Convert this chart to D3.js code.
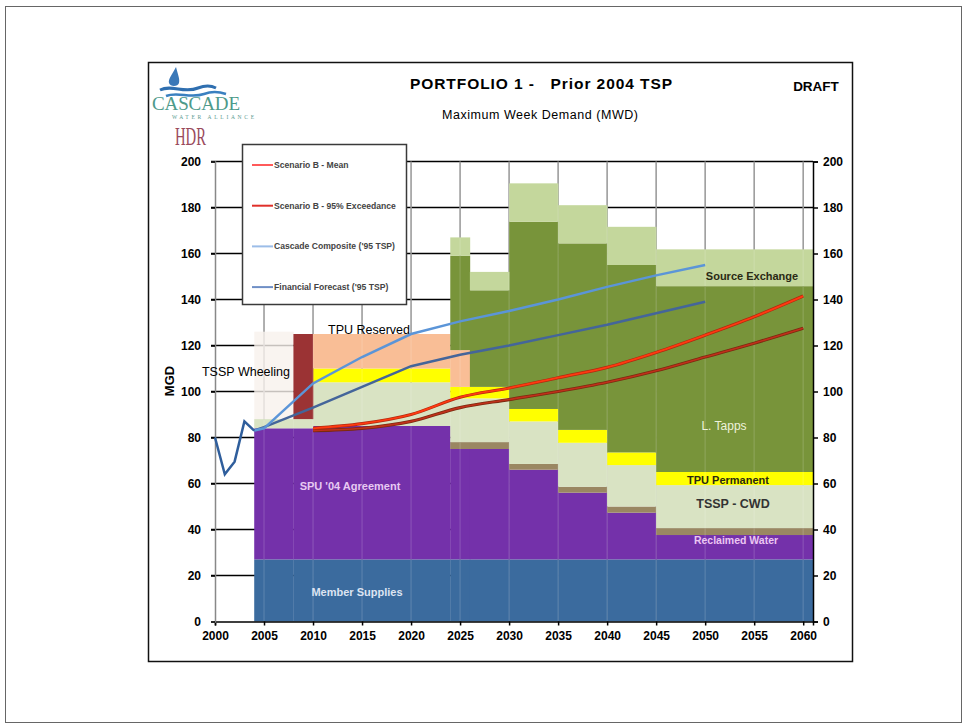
<!DOCTYPE html>
<html>
<head>
<meta charset="utf-8">
<script src="https://cdn.jsdelivr.net/npm/d3@7"></script>
<style>
body { margin: 0; background: #fff; }
svg { font-family: Arial, "Liberation Sans", sans-serif; }
</style>
</head>
<body>
<svg width="964" height="726"></svg>
<script>
'use strict';

// supply steps (start/end years) and the MGD each source adds in that step
var segStart = [2004, 2008, 2010, 2024, 2026, 2030, 2035, 2040, 2045];
var segEnd   = [2008, 2010, 2024, 2026, 2030, 2035, 2040, 2045, 2061];

var memberSupplies = [27, 27, 27, 27, 27, 27, 27, 27, 27];
var spuAgreement   = [57, 57, 58, 48, 48, 39, 29, 20.3, 10.6];
var reclaimedWater = [0, 0, 0, 3, 3, 2.5, 2.6, 2.7, 3];
var tsspCwd        = [4, 4, 19, 19, 19, 18.5, 19.1, 18, 18.7];
var tpuPermanent   = [0, 0, 6, 5, 5, 5.4, 5.6, 5.5, 5.7];
var unallocated    = [38, 0, 0, 0, 0, 0, 0, 0, 0];
var tsspWheeling   = [0, 37, 0, 0, 0, 0, 0, 0, 0];
var tpuReserved    = [0, 0, 15, 16, 0, 0, 0, 0, 0];
var lTapps         = [0, 0, 0, 41, 42, 81.4, 81.1, 81.5, 80.8];
var sourceExchange = [0, 0, 0, 8, 8, 16.7, 16.6, 16.6, 16];

// demand lines
var histYears = [2000, 2001, 2002, 2003, 2004];
var histMgd   = [80, 64, 69.5, 87, 83];

var fcYears   = [2004, 2005, 2010, 2015, 2020, 2025, 2030, 2035, 2040, 2045, 2050];
var cascadeComposite = [83, 84, 103.5, 115, 125, 130.5, 135, 140, 145.5, 150.5, 155];
var financialForecast = [83, 84.5, 93, 102, 111, 116, 120, 124.5, 129, 134, 139];

var scenYears = [2010, 2015, 2020, 2025, 2030, 2035, 2040, 2045, 2050, 2055, 2060];
var scenarioMean = [84, 86, 90, 97.5, 101.5, 106, 110.5, 117, 124.5, 132.5, 141.5];
var scenario95   = [83, 84, 87, 93, 96.5, 100, 104, 109, 115, 121, 127.5];

var xTicks = d3.range(2000, 2061, 5);
var yTicks = d3.range(0, 201, 20);

var keys = ['memberSupplies', 'spuAgreement', 'reclaimedWater', 'tsspCwd', 'tpuPermanent',
            'unallocated', 'tsspWheeling', 'tpuReserved', 'lTapps', 'sourceExchange'];
var layerData = { memberSupplies: memberSupplies, spuAgreement: spuAgreement,
  reclaimedWater: reclaimedWater, tsspCwd: tsspCwd, tpuPermanent: tpuPermanent,
  unallocated: unallocated, tsspWheeling: tsspWheeling, tpuReserved: tpuReserved,
  lTapps: lTapps, sourceExchange: sourceExchange };
var fills = { memberSupplies: '#3b6b9e', spuAgreement: '#7431aa', reclaimedWater: '#9a8762',
  tsspCwd: '#d9e3c3', tpuPermanent: '#ffff00', unallocated: '#f7f1ec', tsspWheeling: '#9b3334',
  tpuReserved: '#f9be96', lTapps: '#78943a', sourceExchange: '#c4d79c' };

var svg = d3.select('svg');
var x = d3.scaleLinear().domain([2000, 2061]).range([215, 813]);
var y = d3.scaleLinear().domain([0, 200]).range([621.5, 161.5]);

// frames
svg.append('rect').attr('x', 5.5).attr('y', 6.5).attr('width', 956).attr('height', 716)
  .attr('fill', 'none').attr('stroke', '#666').attr('stroke-width', 1);
svg.append('rect').attr('x', 148.5).attr('y', 62.5).attr('width', 704).attr('height', 599)
  .attr('fill', '#fff').attr('stroke', '#111').attr('stroke-width', 1.5);

// grid
svg.append('g').selectAll('line').data(yTicks.slice(1)).enter().append('line')
  .attr('x1', 211).attr('x2', 813).attr('y1', function(d){ return y(d); }).attr('y2', function(d){ return y(d); })
  .attr('stroke', '#000').attr('stroke-width', 1.5);
svg.append('g').selectAll('line').data(xTicks.slice(1)).enter().append('line')
  .attr('x1', function(d){ return x(d); }).attr('x2', function(d){ return x(d); })
  .attr('y1', y(200)).attr('y2', y(0))
  .attr('stroke', '#8c8c8c').attr('stroke-width', 1.5);

// stacked supply steps
var segs = segStart.map(function(s, i){
  var o = { start: s, end: segEnd[i] };
  keys.forEach(function(k){ o[k] = layerData[k][i]; });
  return o;
});
var stacked = d3.stack().keys(keys)(segs);
svg.append('g').selectAll('g').data(stacked).enter().append('g')
  .attr('fill', function(d){ return fills[d.key]; })
  .attr('fill-opacity', function(d){ return d.key === 'unallocated' ? 0.8 : 1; })
  .selectAll('rect').data(function(d){ return d.filter(function(p){ return p[1] > p[0]; }); })
  .enter().append('rect')
  .attr('x', function(d){ return x(d.data.start); })
  .attr('width', function(d){ return x(d.data.end) - x(d.data.start) + 0.3; })
  .attr('y', function(d){ return y(d[1]); })
  .attr('height', function(d){ return y(d[0]) - y(d[1]); });

// faint grid showing through the fills
svg.append('g').selectAll('line').data(xTicks.slice(1)).enter().append('line')
  .attr('x1', function(d){ return x(d); }).attr('x2', function(d){ return x(d); })
  .attr('y1', y(200)).attr('y2', y(0))
  .attr('stroke', '#fff').attr('stroke-opacity', 0.12).attr('stroke-width', 1.5);

// axes
var axB = svg.append('g').attr('transform', 'translate(0,' + y(0) + ')')
  .call(d3.axisBottom(x).tickValues(xTicks).tickSize(4).tickPadding(4).tickFormat(d3.format('d')));
var axL = svg.append('g').attr('transform', 'translate(215,0)')
  .call(d3.axisLeft(y).tickValues(yTicks).tickSize(4).tickPadding(10));
var axR = svg.append('g').attr('transform', 'translate(813,0)')
  .call(d3.axisRight(y).tickValues(yTicks).tickSize(5).tickPadding(5));
[axB, axL, axR].forEach(function(a){
  a.select('.domain').attr('stroke-width', 1.5);
  a.selectAll('.tick line').attr('stroke-width', 1.5);
  a.selectAll('text').attr('font-size', 12).attr('font-weight', 'bold')
    .attr('font-family', 'Arial, "Liberation Sans", sans-serif').attr('fill', '#000');
});
axL.select('.domain').attr('stroke', '#888');
axB.selectAll('text').attr('dy', '0.9em');

// demand lines
var line = d3.line().x(function(d){ return x(d[0]); }).y(function(d){ return y(d[1]); });
var smooth = d3.line().curve(d3.curveMonotoneX).x(function(d){ return x(d[0]); }).y(function(d){ return y(d[1]); });
function pairs(xs, ys){ return xs.map(function(v, i){ return [v, ys[i]]; }); }

svg.append('path').datum(pairs(fcYears, financialForecast)).attr('d', line)
  .attr('fill', 'none').attr('stroke', '#44659a').attr('stroke-width', 2.5);
svg.append('path').datum(pairs(fcYears, cascadeComposite)).attr('d', line)
  .attr('fill', 'none').attr('stroke', '#5b95d8').attr('stroke-width', 2.5);
svg.append('path').datum(pairs(histYears, histMgd)).attr('d', line)
  .attr('fill', 'none').attr('stroke', '#2f5e9c').attr('stroke-width', 2.5);
svg.append('path').datum(pairs(scenYears, scenario95)).attr('d', smooth)
  .attr('fill', 'none').attr('stroke', '#7a2a10').attr('stroke-width', 3.2);
svg.append('path').datum(pairs(scenYears, scenario95)).attr('d', smooth)
  .attr('fill', 'none').attr('stroke', '#c0301a').attr('stroke-width', 1.6);
svg.append('path').datum(pairs(scenYears, scenarioMean)).attr('d', smooth)
  .attr('fill', 'none').attr('stroke', '#b02a10').attr('stroke-width', 3.2);
svg.append('path').datum(pairs(scenYears, scenarioMean)).attr('d', smooth)
  .attr('fill', 'none').attr('stroke', '#ff3a10').attr('stroke-width', 1.8);

// area labels
var labels = [
  { t: 'Source Exchange', x: 752, y: 276, c: '#2a2a14', s: 11, w: 'bold' },
  { t: 'L. Tapps', x: 724, y: 426, c: '#eef2dc', s: 12, w: 'normal' },
  { t: 'TPU Permanent', x: 728, y: 480, c: '#2a2a10', s: 11, w: 'bold' },
  { t: 'TSSP - CWD', x: 733, y: 504, c: '#333', s: 12.5, w: 'bold' },
  { t: 'Reclaimed Water', x: 736, y: 540, c: '#ebc6f2', s: 10.5, w: 'bold' },
  { t: "SPU '04 Agreement", x: 350, y: 486, c: '#e7c9f2', s: 11, w: 'bold' },
  { t: 'Member Supplies', x: 357, y: 592, c: '#dde4f2', s: 11, w: 'bold' },
  { t: 'TPU Reserved', x: 369, y: 330, c: '#000', s: 12.5, w: 'normal' },
  { t: 'TSSP Wheeling', x: 246, y: 372, c: '#000', s: 12.5, w: 'normal' }
];
svg.append('g').selectAll('text').data(labels).enter().append('text')
  .attr('x', function(d){ return d.x; }).attr('y', function(d){ return d.y; })
  .attr('dy', '0.35em').attr('text-anchor', 'middle')
  .attr('font-size', function(d){ return d.s; }).attr('font-weight', function(d){ return d.w; })
  .attr('fill', function(d){ return d.c; }).text(function(d){ return d.t; });

// titles
svg.append('text').attr('x', 410).attr('y', 84).attr('dy', '0.35em')
  .attr('font-size', 15.5).attr('font-weight', 'bold').attr('xml:space', 'preserve')
  .attr('textLength', 262).attr('lengthAdjust', 'spacing')
  .text('PORTFOLIO 1 -   Prior 2004 TSP');
svg.append('text').attr('x', 442).attr('y', 115).attr('dy', '0.35em')
  .attr('font-size', 12.5).attr('textLength', 196).attr('lengthAdjust', 'spacing')
  .text('Maximum Week Demand (MWD)');
svg.append('text').attr('x', 816).attr('y', 86).attr('dy', '0.35em').attr('text-anchor', 'middle')
  .attr('font-size', 13.5).attr('font-weight', 'bold').text('DRAFT');
svg.append('text').attr('transform', 'translate(169,381) rotate(-90)').attr('dy', '0.35em')
  .attr('text-anchor', 'middle').attr('font-size', 13).attr('font-weight', 'bold').text('MGD');

// legend
var legendItems = [
  { t: 'Scenario B - Mean', c: '#ff5a5a' },
  { t: 'Scenario B - 95% Exceedance', c: '#e0302a' },
  { t: "Cascade Composite ('95 TSP)", c: '#9cbde8' },
  { t: "Financial Forecast ('95 TSP)", c: '#6f8fc6' }
];
var lg = svg.append('g');
lg.append('rect').attr('x', 242.5).attr('y', 144.5).attr('width', 164).attr('height', 160)
  .attr('fill', '#fff').attr('stroke', '#3a3a3a').attr('stroke-width', 1.5);
var li = lg.selectAll('g').data(legendItems).enter().append('g')
  .attr('transform', function(d, i){ return 'translate(0,' + (165 + i * 40.7) + ')'; });
li.append('line').attr('x1', 252).attr('x2', 273).attr('stroke', function(d){ return d.c; }).attr('stroke-width', 2);
li.append('text').attr('x', 274).attr('dy', '0.35em').attr('font-size', 8.6).attr('font-weight', 'bold')
  .attr('fill', '#444').text(function(d){ return d.t; });

// logo
var logo = svg.append('g');
logo.append('path').attr('d', 'M176,67 C172,75 168,79 169,83 C170,87 178,87 179,83 C180,79 178,75 176,67 Z')
  .attr('fill', '#3a78b8');
logo.append('path').attr('d', 'M160,90 C172,84 184,94 198,88 C206,85 212,86 216,88')
  .attr('fill', 'none').attr('stroke', '#2f6fb0').attr('stroke-width', 3);
logo.append('path').attr('d', 'M166,96 C178,91 190,99 204,94 C212,91 220,92 226,94')
  .attr('fill', 'none').attr('stroke', '#3a80c0').attr('stroke-width', 2.5);
logo.append('text').attr('x', 152).attr('y', 110).attr('font-family', '"Liberation Serif", "DejaVu Serif", serif')
  .attr('font-size', 19).attr('fill', '#4e9a8a').attr('textLength', 88).text('CASCADE');
logo.append('text').attr('x', 172).attr('y', 119).attr('font-family', '"Liberation Serif", serif')
  .attr('font-size', 5.5).attr('fill', '#5a9a90').attr('textLength', 82).text('WATER ALLIANCE');
logo.append('text').attr('x', 175).attr('y', 145).attr('font-family', '"Liberation Serif", "DejaVu Serif", serif')
  .attr('font-size', 26).attr('fill', '#9a4a5c')
  .attr('textLength', 31).attr('lengthAdjust', 'spacingAndGlyphs').text('HDR');
</script>
</body>
</html>
